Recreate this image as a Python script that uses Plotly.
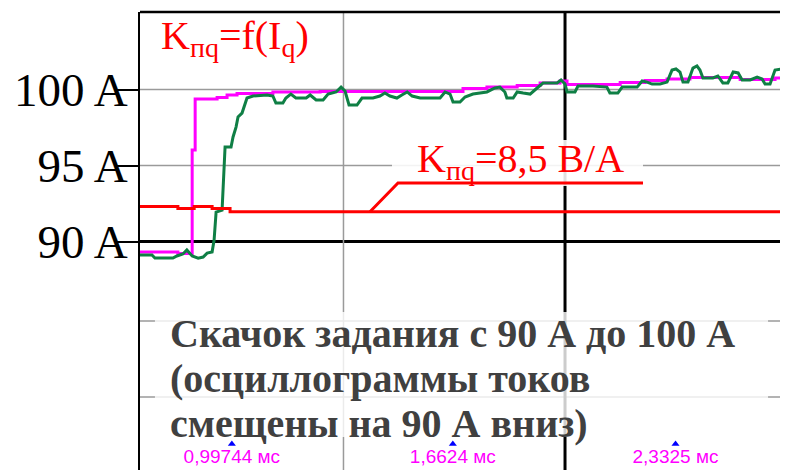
import plotly.graph_objects as go

# ---------------- data (time in ms, current in A) ----------------
green_t = [0.721, 0.757, 0.766, 0.820, 0.832, 0.850, 0.862, 0.878, 0.896, 0.911,
           0.923, 0.938, 0.944, 0.950, 0.968, 0.974, 0.977, 0.995, 1.001, 1.010,
           1.016, 1.028, 1.037, 1.043, 1.061, 1.103, 1.121, 1.130, 1.151, 1.160,
           1.175, 1.190, 1.221, 1.233, 1.251, 1.272, 1.287, 1.311, 1.326, 1.338,
           1.350, 1.374, 1.389, 1.422, 1.443, 1.458, 1.473, 1.494, 1.509, 1.525,
           1.540, 1.564, 1.624, 1.639, 1.654, 1.663, 1.684, 1.699, 1.723, 1.765,
           1.789, 1.804, 1.819, 1.825, 1.844, 1.856, 1.874, 1.895, 1.916, 1.934,
           1.976, 1.988, 2.000, 2.006, 2.030, 2.039, 2.084, 2.126, 2.135, 2.159,
           2.172, 2.217, 2.232, 2.247, 2.262, 2.286, 2.307, 2.322, 2.334, 2.346,
           2.355, 2.370, 2.385, 2.397, 2.406, 2.415, 2.445, 2.460, 2.475, 2.490,
           2.506, 2.521, 2.533, 2.557, 2.578, 2.593, 2.602, 2.617, 2.632, 2.653,
           2.668]
green_i = [89.11, 89.11, 88.91, 88.91, 89.05, 89.18, 89.44, 89.05, 88.91, 88.98,
           89.24, 89.31, 90.10, 91.94, 92.07, 94.90, 96.22, 96.22, 96.88, 97.53,
           98.19, 98.45, 99.11, 99.44, 99.57, 99.64, 99.57, 99.11, 99.11, 99.44,
           99.70, 99.44, 99.44, 99.64, 99.31, 99.31, 99.70, 99.84, 100.16, 99.90,
           98.98, 98.98, 99.44, 99.44, 99.57, 99.77, 99.57, 99.44, 99.64, 99.84,
           99.57, 99.44, 99.44, 99.84, 99.70, 99.18, 99.18, 99.51, 99.70, 99.84,
           100.10, 100.16, 99.84, 99.44, 99.44, 99.84, 99.77, 99.70, 100.10, 100.43,
           100.43, 100.63, 100.36, 99.84, 99.84, 100.23, 100.23, 100.16, 99.77, 99.77,
           100.16, 100.16, 100.56, 100.49, 100.36, 100.36, 100.49, 101.28, 101.35, 101.15,
           100.49, 100.49, 101.41, 101.55, 101.28, 100.76, 100.76, 100.89, 100.43, 100.43,
           101.15, 101.09, 100.63, 100.63, 100.82, 100.69, 100.36, 100.36, 101.28, 101.35,
           101.09]

mag_t = [0.721, 0.835, 0.878, 0.887, 0.953, 0.983, 1.013, 1.121, 1.263, 1.693,
         1.765, 1.856, 1.925, 1.985, 2.006, 2.166, 2.241, 2.307, 2.376, 2.527,
         2.632, 2.671]
mag_i = [89.31, 89.21, 96.02, 99.38, 99.47, 99.64, 99.74, 99.84, 99.87, 100.07,
         100.16, 100.26, 100.43, 100.56, 100.33, 100.46, 100.59, 100.69, 100.79, 100.66,
         100.76, 100.76]

red_t = [0.721, 0.835, 0.884, 0.938, 0.992, 2.671]
red_k = [92.30, 92.17, 92.30, 92.17, 91.96, 91.96]

cursor_t = [0.99744, 1.6624, 2.3325]
cursor_labels = ["0,99744 мс", "1,6624 мс", "2,3325 мс"]

ytick_vals = [90, 95, 100]
ytick_text = ["90 A", "95 A", "100 A"]

caption_lines = ["Скачок задания с 90 А до 100 А",
                 "(осциллограммы токов",
                 "смещены на 90 А вниз)"]
caption_y = [83.95, 80.99, 78.03]

grid_t = [4 / 3, 2.0, 8 / 3]
grid_t_color = ["#9a9a9a", "#000000", "#9a9a9a"]
grid_t_width = [1.5, 3, 1.5]
grid_i = [100, 95, 90, 84.77, 79.77]
grid_i_color = ["#9a9a9a", "#9a9a9a", "#000000", "#9a9a9a", "#9a9a9a"]
grid_i_width = [1.5, 1.5, 3, 1.5, 1.5]

X_RANGE = [0.721, 2.671]
Y_RANGE = [74.97, 105.10]

SERIF = "Liberation Serif, Times New Roman, serif"
SANS = "Liberation Sans, Arial, sans-serif"

fig = go.Figure()

fig.add_trace(go.Scatter(x=mag_t, y=mag_i, mode="lines", line_shape="hv",
                         line=dict(color="#ff00ff", width=3), hoverinfo="skip"))
fig.add_trace(go.Scatter(x=green_t, y=green_i, mode="lines",
                         line=dict(color="#0f7f45", width=3), hoverinfo="skip"))
fig.add_trace(go.Scatter(x=red_t, y=red_k, mode="lines", line_shape="hv",
                         line=dict(color="#ff0000", width=3), hoverinfo="skip"))

# cursor markers
fig.add_trace(go.Scatter(x=cursor_t, y=[76.68] * len(cursor_t), mode="markers",
                         marker=dict(symbol="triangle-up", size=7, color="#0000ff"),
                         hoverinfo="skip", cliponaxis=False))
fig.add_trace(go.Scatter(x=cursor_t, y=[75.75] * len(cursor_t), mode="text",
                         text=cursor_labels, textposition="middle center",
                         textfont=dict(family=SANS, size=19, color="#ff00ff"),
                         hoverinfo="skip", cliponaxis=False))

shapes = []
# horizontal grid lines
for v, c, w in zip(grid_i, grid_i_color, grid_i_width):
    shapes.append(dict(type="line", xref="paper", yref="y", x0=0, x1=1, y0=v, y1=v,
                       line=dict(color=c, width=w), layer="below"))
# white background behind the K=8,5 label (fades the horizontal line only)
shapes.append(dict(type="rect", xref="x", yref="y", x0=1.4793, x1=2.2347, y0=93.65, y1=96.68,
                   fillcolor="rgba(255,255,255,0.88)", line=dict(width=0), layer="below"))
# vertical grid lines
for v, c, w in zip(grid_t, grid_t_color, grid_t_width):
    shapes.append(dict(type="line", xref="x", yref="paper", x0=v, x1=v, y0=0, y1=1,
                       line=dict(color=c, width=w), layer="below"))
# white semi-transparent box behind the bottom caption
shapes.append(dict(type="rect", xref="x", yref="y", x0=0.766, x1=2.611, y0=77.14, y1=85.36,
                   fillcolor="rgba(255,255,255,0.8)", line=dict(width=0), layer="below"))
# top border
shapes.append(dict(type="line", xref="paper", yref="paper", x0=0, x1=1, y0=1, y1=1,
                   line=dict(color="#000000", width=2.5)))
# leader line for K=8,5 label
shapes.append(dict(type="path", xref="x", yref="y",
                   path="M 1.4131,91.96 L 1.4974,93.85 L 2.2347,93.85",
                   line=dict(color="#ff0000", width=3)))

annotations = [
    dict(x=0.777, y=103.39, xref="x", yref="y", xanchor="left", yanchor="middle",
         text="K<sub>пq</sub>=f(I<sub>q</sub>)", showarrow=False,
         font=dict(family=SERIF, size=40, color="#ff0000")),
    dict(x=1.549, y=95.30, xref="x", yref="y", xanchor="left", yanchor="middle",
         text="K<sub>пq</sub>=8,5 В/А", showarrow=False,
         font=dict(family=SERIF, size=40, color="#ff0000")),
]
for line_text, yv in zip(caption_lines, caption_y):
    annotations.append(dict(x=0.805, y=yv, xref="x", yref="y", xanchor="left",
                            yanchor="middle", align="left", text="<b>" + line_text + "</b>",
                            showarrow=False,
                            font=dict(family=SERIF, size=40, color="#404040")))

# the page body adds an 8px offset; the figure is sized so the plot sits at
# x 140..788, y 12..470 of the 788x470 window
fig.update_layout(
    width=780, height=462,
    margin=dict(l=132, r=0, t=4, b=0, pad=0),
    paper_bgcolor="white", plot_bgcolor="white",
    showlegend=False,
    shapes=shapes, annotations=annotations,
    xaxis=dict(range=X_RANGE, showgrid=False, zeroline=False, showticklabels=False,
               ticks="", showline=False, fixedrange=True),
    yaxis=dict(range=Y_RANGE, showgrid=False, zeroline=False,
               tickmode="array", tickvals=ytick_vals, ticktext=ytick_text,
               ticks="outside", ticklen=22, tickwidth=1.5, tickcolor="#000000",
               tickfont=dict(family=SERIF, size=47, color="#000000"),
               ticklabelstandoff=-21,
               showline=True, linecolor="#000000", linewidth=2, fixedrange=True),
)

fig.write_html("out.html")
